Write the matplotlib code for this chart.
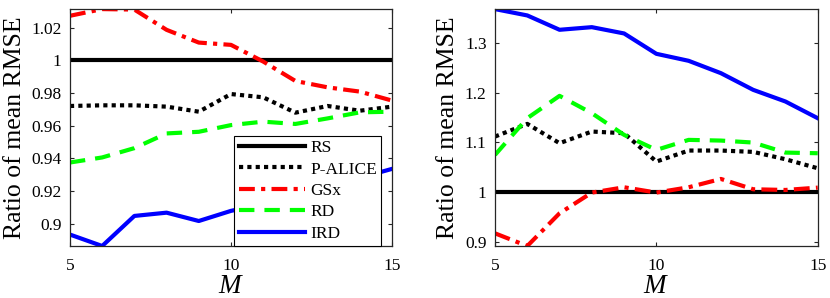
import matplotlib
matplotlib.use('Agg')
import matplotlib.pyplot as plt
import numpy as np

plt.rcParams['font.family'] = ['Liberation Serif', 'DejaVu Serif']
plt.rcParams['mathtext.fontset'] = 'custom'
plt.rcParams['mathtext.it'] = 'Liberation Serif:italic'

M = [5, 6, 7, 8, 9, 10, 11, 12, 13, 14, 15]
labels = ['RS', 'P-ALICE', 'GSx', 'RD', 'IRD']

# left panel
rs_a = [1.0] * 11
palice_a = [0.9720, 0.9724, 0.9724, 0.9716, 0.9685, 0.9793, 0.9773, 0.9679, 0.9720, 0.9691, 0.9716]
gsx_a = [1.0272, 1.0313, 1.0310, 1.0186, 1.0108, 1.0094, 0.9992, 0.9873, 0.9834, 0.9808, 0.9753]
rd_a = [0.9374, 0.9405, 0.9462, 0.9552, 0.9562, 0.9603, 0.9624, 0.9610, 0.9644, 0.9681, 0.9685]
ird_a = [0.8933, 0.8863, 0.9047, 0.9067, 0.9016, 0.9078, 0.9120, 0.9175, 0.9225, 0.9280, 0.9335]

# right panel
rs_b = [1.0] * 11
palice_b = [1.1116, 1.1371, 1.0982, 1.1217, 1.1183, 1.0612, 1.0834, 1.0834, 1.0807, 1.0659, 1.0477]
gsx_b = [0.9166, 0.8911, 0.9570, 0.9987, 1.0094, 0.9987, 1.0094, 1.0262, 1.0054, 1.0040, 1.0087]
rd_b = [1.0746, 1.1486, 1.1936, 1.1587, 1.1150, 1.0847, 1.1049, 1.1035, 1.0995, 1.0793, 1.0780]
ird_b = [1.3684, 1.3556, 1.3267, 1.3320, 1.3193, 1.2783, 1.2642, 1.2393, 1.2057, 1.1822, 1.1486]

yticks_a = [0.9, 0.92, 0.94, 0.96, 0.98, 1.0, 1.02]
yticks_b = [0.9, 1.0, 1.1, 1.2, 1.3]

styles = [
    dict(color='black', linestyle='-'),
    dict(color='black', linestyle=(0, (1, 1))),
    dict(color='red', linestyle=(0, (3.8, 1.5, 1, 1.5))),
    dict(color=(0, 1, 0), linestyle=(0, (3.7, 2.4))),
    dict(color='blue', linestyle='-'),
]

fig = plt.figure(figsize=(8.3, 2.98), dpi=100)
ax1 = fig.add_axes([0.0843, 0.1745, 0.388, 0.795])
ax2 = fig.add_axes([0.5964, 0.1745, 0.3888, 0.795])

frame = (0.15, 0.15, 0.15)


def draw_panel(ax, series, yticks):
    for s, lab, st in zip(series, labels, styles):
        ax.plot(M, s, lw=3, label=lab, **st)
    allv = np.concatenate([np.asarray(s) for s in series])
    ax.set_xlim(5, 15)
    ax.set_ylim(allv.min(), allv.max())
    ax.set_xticks([5, 10, 15])
    ax.set_yticks(yticks)
    ax.set_yticklabels(['%g' % t for t in yticks])
    ax.tick_params(direction='in', top=True, right=True, labelsize=12.5,
                   length=3, width=0.8, color=frame, pad=6)
    ax.tick_params(axis='x', pad=9)
    for sp in ax.spines.values():
        sp.set_color(frame)
        sp.set_linewidth(0.9)
    ax.set_ylabel('Ratio of mean RMSE', fontsize=18.5, labelpad=4)
    ax.set_xlabel('$M$', fontsize=19.5, labelpad=-0.5)


draw_panel(ax1, [rs_a, palice_a, gsx_a, rd_a, ird_a], yticks_a)
draw_panel(ax2, [rs_b, palice_b, gsx_b, rd_b, ird_b], yticks_b)

leg = ax1.legend(loc='lower right', bbox_to_anchor=(0.966, 0.0), fontsize=12.5,
                 handlelength=3.8, labelspacing=0.3, handletextpad=0.3,
                 borderpad=0.25, borderaxespad=0, fancybox=False, framealpha=1)
leg.get_frame().set_edgecolor('black')
leg.get_frame().set_linewidth(0.8)

fig.savefig('out.png', dpi=100)
